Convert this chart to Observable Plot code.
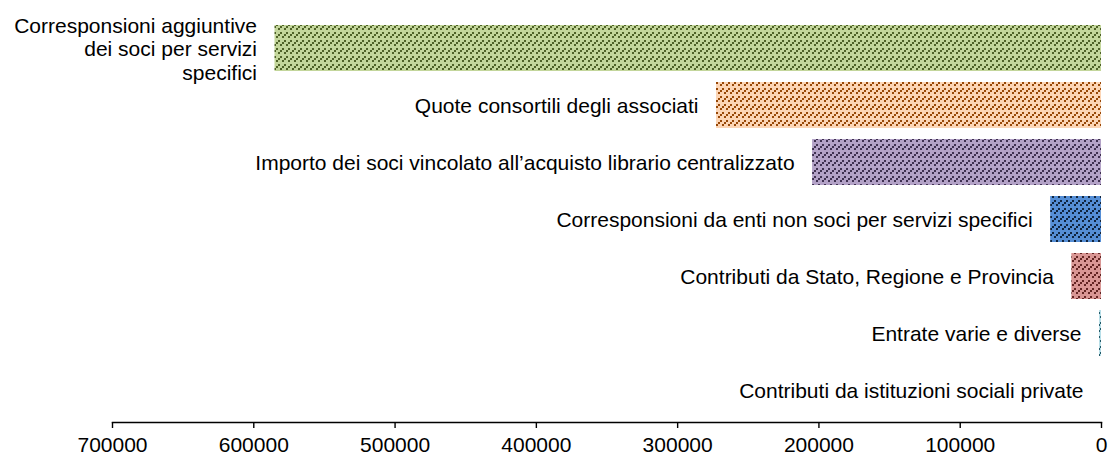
<!DOCTYPE html>
<html>
<head>
<meta charset="utf-8">
<script src="https://cdn.jsdelivr.net/npm/d3@7"></script>
<script src="https://cdn.jsdelivr.net/npm/@observablehq/plot@0.6"></script>
<style>
  html, body { margin: 0; padding: 0; background: #fff; }
  #chart { width: 1109px; height: 455px; }
</style>
</head>
<body>
<div id="chart"></div>
<script>
// Categories (top to bottom) and values
const categories = [
  "Corresponsioni aggiuntive dei soci per servizi specifici",
  "Quote consortili degli associati",
  "Importo dei soci vincolato all’acquisto librario centralizzato",
  "Corresponsioni da enti non soci per servizi specifici",
  "Contributi da Stato, Regione e Provincia",
  "Entrate varie e diverse",
  "Contributi da istituzioni sociali private"
];
const displayLabels = [
  "Corresponsioni aggiuntive\ndei soci per servizi\nspecifici",
  "Quote consortili degli associati",
  "Importo dei soci vincolato all’acquisto librario centralizzato",
  "Corresponsioni da enti non soci per servizi specifici",
  "Contributi da Stato, Regione e Provincia",
  "Entrate varie e diverse",
  "Contributi da istituzioni sociali private"
];
const values = [585000, 272500, 204500, 36000, 21000, 1400, 0];
const bgColors = ["#c3d69b", "#fcd5b5", "#b3a2c7", "#558ed5", "#d99694", "#b7dee8", "#b7dee8"];
const fgColors = ["#4f6228", "#984807", "#3f3151", "#10253f", "#632523", "#215968", "#215968"];
const xTicks = [700000, 600000, 500000, 400000, 300000, 200000, 100000, 0];

const data = categories.map((c, i) => ({cat: c, label: displayLabels[i], value: values[i], pat: `url(#pat${i})`}));

function defsMark() {
  const defs = d3.create("svg:defs");
  const cols = 3, rows = 12, cell = 2;
  bgColors.forEach((bg, i) => {
    const p = defs.append("pattern")
      .attr("id", `pat${i}`)
      .attr("patternUnits", "userSpaceOnUse")
      .attr("width", cols * cell).attr("height", rows * cell);
    p.append("rect").attr("width", cols * cell).attr("height", rows * cell).attr("fill", bg);
    for (let by = 0; by < rows; by++) {
      for (let bx = 0; bx < cols; bx++) {
        if ((bx + by) % 3 === 0 && by % 4 < 3) {
          p.append("rect").attr("x", bx * cell).attr("y", by * cell)
            .attr("width", cell).attr("height", cell).attr("fill", fgColors[i]);
        }
      }
    }
  });
  return defs.node();
}

const chart = Plot.plot({
  width: 1109,
  height: 455,
  marginTop: 16,
  marginBottom: 33,
  marginLeft: 112,
  marginRight: 8,
  style: {fontFamily: "'Liberation Sans', Arial, sans-serif", fontSize: "21px", color: "#000", background: "#fff"},
  x: {domain: [0, 700000], reverse: true, ticks: xTicks, tickFormat: d => String(d), label: null},
  y: {domain: categories, paddingInner: 0.19, paddingOuter: 0.1, axis: null},
  color: {type: "identity"},
  marks: [
    defsMark,
    Plot.barX(data, {x: "value", y: "cat", fill: "pat"}),
    Plot.text(data, {x: "value", y: "cat", text: "label", textAnchor: "end", dx: -18, lineHeight: 1.12, fontSize: 21, fill: "#000"}),
    Plot.axisX({anchor: "bottom", ticks: xTicks, tickFormat: d => String(d), tickSize: 6, tickPadding: 9, strokeWidth: 1.4, fontSize: 21, label: null}),
    Plot.frame({anchor: "bottom", stroke: "#000", strokeWidth: 1.4})
  ]
});
document.getElementById("chart").appendChild(chart);
</script>
</body>
</html>
